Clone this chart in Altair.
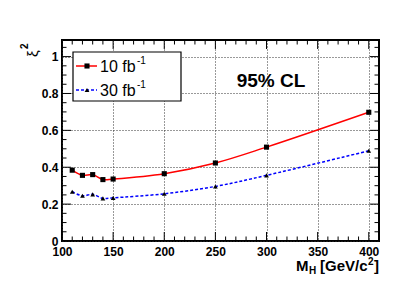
import altair as alt
import pandas as pd

# data
mass = [110, 120, 130, 140, 150, 200, 250, 300, 400]
xi2_10fb = [0.384, 0.356, 0.360, 0.333, 0.336, 0.365, 0.423, 0.509, 0.698]
xi2_30fb = [0.267, 0.245, 0.253, 0.231, 0.234, 0.256, 0.296, 0.356, 0.489]

x_major = [100, 150, 200, 250, 300, 350, 400]
x_minor = [v for v in range(100, 411, 10) if v not in x_major]
y_major = [0.0, 0.2, 0.4, 0.6, 0.8, 1.0]
y_minor = [round(0.05 * i, 2) for i in range(0, 22) if round(0.05 * i, 2) not in y_major]

W, H = 317, 201
FONT = "Liberation Sans"

xs = alt.Scale(domain=[100, 410], nice=False, zero=False)
ys = alt.Scale(domain=[0, 1.09], nice=False, zero=False)

df10 = pd.DataFrame({"m": mass, "v": xi2_10fb})
df30 = pd.DataFrame({"m": mass, "v": xi2_30fb})

base_axes = alt.Chart(pd.DataFrame({"m": [100], "v": [0]})).mark_point(opacity=0).encode(
    x=alt.X("m:Q", scale=xs, axis=alt.Axis(values=x_major, title=None, ticks=False, domain=False,
                                           grid=True, gridDash=[1, 2], gridColor="#333", gridWidth=1,
                                           labelFont=FONT, labelFontWeight="bold", labelFontSize=12,
                                           labelColor="black", labelPadding=5, labelFlush=False)),
    y=alt.Y("v:Q", scale=ys, axis=alt.Axis(values=y_major, title=None, ticks=False, domain=False,
                                           grid=True, gridDash=[1, 2], gridColor="#333", gridWidth=1,
                                           format=".1~f",
                                           labelFont=FONT, labelFontWeight="bold", labelFontSize=12,
                                           labelColor="black", labelPadding=4, labelFlush=False)),
)

def xticks(vals, length):
    d = pd.DataFrame({"m": vals})
    bot = alt.Chart(d).mark_rule(color="black", strokeWidth=1).encode(
        x=alt.X("m:Q", scale=xs), y=alt.value(H), y2=alt.value(H - length))
    top = alt.Chart(d).mark_rule(color="black", strokeWidth=1).encode(
        x=alt.X("m:Q", scale=xs), y=alt.value(0), y2=alt.value(length))
    return [bot, top]

def yticks(vals, length):
    d = pd.DataFrame({"v": vals})
    left = alt.Chart(d).mark_rule(color="black", strokeWidth=1).encode(
        y=alt.Y("v:Q", scale=ys), x=alt.value(0), x2=alt.value(length))
    right = alt.Chart(d).mark_rule(color="black", strokeWidth=1).encode(
        y=alt.Y("v:Q", scale=ys), x=alt.value(W), x2=alt.value(W - length))
    return [left, right]

ticks = xticks(x_major, 9) + xticks(x_minor, 4.5) + yticks(y_major, 9) + yticks(y_minor, 4.5)

line10 = alt.Chart(df10).mark_line(color="#ff0000", strokeWidth=1.5, interpolate="catmull-rom").encode(
    x=alt.X("m:Q", scale=xs), y=alt.Y("v:Q", scale=ys))
pts10 = alt.Chart(df10).mark_point(shape="square", filled=True, color="black", size=26, opacity=1).encode(
    x=alt.X("m:Q", scale=xs), y=alt.Y("v:Q", scale=ys))
line30 = alt.Chart(df30).mark_line(color="#0000ff", strokeWidth=1.5, strokeDash=[3, 2],
                                   interpolate="catmull-rom").encode(
    x=alt.X("m:Q", scale=xs), y=alt.Y("v:Q", scale=ys))
pts30 = alt.Chart(df30).mark_point(shape="triangle-up", filled=True, color="black", size=22, opacity=1).encode(
    x=alt.X("m:Q", scale=xs), y=alt.Y("v:Q", scale=ys))

one = pd.DataFrame({"a": [0]})

def txt(s, x, y, size, weight="normal", align="left", angle=0, baseline="alphabetic"):
    kw = dict(font=FONT, fontSize=size, fontWeight=weight, align=align, baseline=baseline, color="black")
    if angle:
        kw["angle"] = angle
    return alt.Chart(one).mark_text(**kw).encode(x=alt.value(x), y=alt.value(y), text=alt.value(s))

legend_box = alt.Chart(one).mark_rect(fill="white", stroke="black", strokeWidth=1.2).encode(
    x=alt.value(11), x2=alt.value(119), y=alt.value(12), y2=alt.value(61))
leg_l1 = alt.Chart(one).mark_rule(color="#ff0000", strokeWidth=1.5).encode(
    x=alt.value(14), x2=alt.value(35), y=alt.value(26))
leg_p1 = alt.Chart(one).mark_point(shape="square", filled=True, color="black", size=26, opacity=1).encode(
    x=alt.value(25), y=alt.value(26))
leg_l2 = alt.Chart(one).mark_rule(color="#0000ff", strokeWidth=1.5, strokeDash=[3, 2]).encode(
    x=alt.value(14), x2=alt.value(35), y=alt.value(50))
leg_p2 = alt.Chart(one).mark_point(shape="triangle-up", filled=True, color="black", size=22, opacity=1).encode(
    x=alt.value(25), y=alt.value(50))

texts = [
    txt("10 fb", 38, 32, 16), txt("-1", 75, 24, 10),
    txt("30 fb", 38, 56, 16), txt("-1", 75, 48, 10),
    txt("95% CL", 209, 41, 19, "bold", align="center", baseline="middle"),
    txt("M", 234, 231, 15, "bold"), txt("H", 247, 234, 10, "bold"),
    txt("[GeV/c", 258, 231, 15, "bold"), txt("2", 306, 225, 10, "bold"),
    txt("]", 312, 231, 15, "bold"),
    txt("ξ", -24, 17, 15, "normal", angle=270), txt("2", -34, 9, 10, "bold", angle=270),
]

chart = alt.layer(
    base_axes, *ticks, line30, pts30, line10, pts10,
    legend_box, leg_l1, leg_p1, leg_l2, leg_p2, *texts
).properties(
    width=W, height=H,
    autosize=alt.AutoSizeParams(type="none"),
    padding={"left": 54, "top": 32, "right": 12, "bottom": 34},
).configure_view(stroke="black", strokeWidth=2)

chart.save("out.html", embed_options={"renderer": "svg", "actions": False})
